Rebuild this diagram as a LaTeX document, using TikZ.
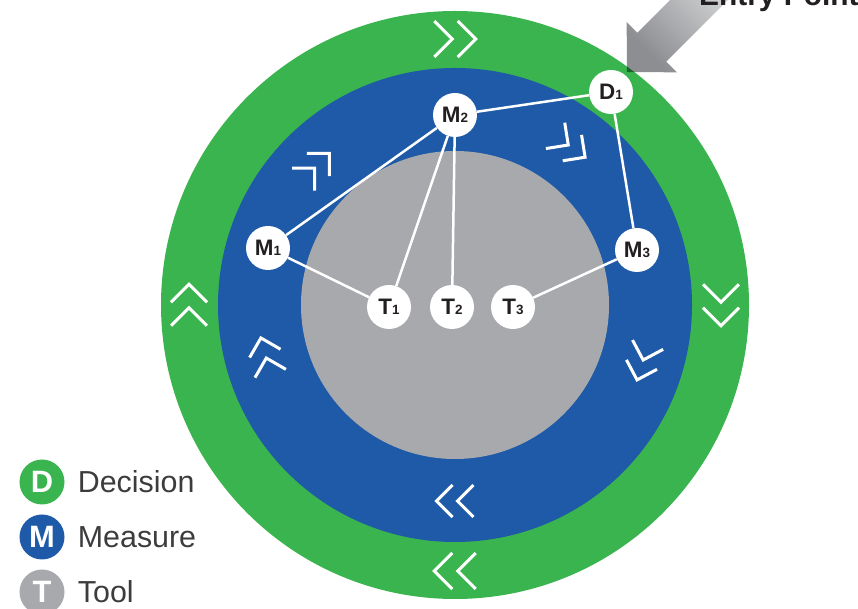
\documentclass[tikz,border=0pt]{standalone}
\usepackage{fontspec}
\setmainfont{Liberation Sans}
\usetikzlibrary{positioning}

\definecolor{ringgreen}{RGB}{58,180,78}
\definecolor{ringblue}{RGB}{30,90,168}
\definecolor{coregray}{RGB}{167,169,172}
\definecolor{inkdark}{RGB}{35,31,32}
\definecolor{inkgray}{RGB}{60,60,62}
\definecolor{arrowdark}{RGB}{140,142,146}
\definecolor{arrowlight}{RGB}{240,240,240}

\newcommand{\idx}[1]{{\fontsize{13.5}{13.5}\selectfont #1}}
% pair of chevrons at (angle:radius), pointing clockwise
\newcommand{\chevpair}[3]{%
  \begin{scope}[shift={(#1:#2)}, rotate=#1-90, scale=#3]
    \draw[chev] (0.15,1) -- (1.15,0) -- (0.15,-1);
    \draw[chev] (-1.15,1) -- (-0.15,0) -- (-1.15,-1);
  \end{scope}}

\begin{document}
\begin{tikzpicture}[x=1bp, y=1bp,
    vertex/.style={circle, fill=white, minimum size=44bp, inner sep=0pt,
      text=inkdark, font=\fontsize{22.5}{22.5}\selectfont\bfseries},
    link/.style={draw=white, line width=2.5bp},
    chev/.style={draw=white, line width=3bp},
    keydot/.style={circle, minimum size=45bp, inner sep=0pt, text=white,
      font=\fontsize{31}{31}\selectfont\bfseries},
    keylabel/.style={inner sep=0pt, text=inkgray,
      font=\fontsize{30.5}{30.5}\selectfont}]
  \useasboundingbox (0,0) rectangle (858,609);

  % rings
  \coordinate (c) at (455,304);
  \fill[ringgreen] (c) circle (294);
  \fill[ringblue] (c) circle (237);
  \fill[coregray] (c) circle (154);

  % flow direction
  \begin{scope}[shift={(455,304)}]
    \foreach \a in {90,0,270,180}
      \chevpair{\a}{266}{18};
    \foreach \a in {54,135,195,270,343}
      \chevpair{\a}{196}{16};
  \end{scope}

  % entry arrow
  \coordinate (entry) at (627,537);
  \begin{scope}[shift={(entry)}, rotate=45, blend mode=multiply]
    \shade[top color=arrowlight, bottom color=arrowdark, shading angle=-45]
      (0,0) -- (35,35.5) -- (35,20.5) -- (170,20.5) -- (170,-20.5)
      -- (35,-20.5) -- (35,-35.5) -- cycle;
  \end{scope}
  \node[anchor=base west, inner sep=0pt, text=inkdark,
    font=\fontsize{30}{30}\selectfont\bfseries] (entrylabel) at (699,603) {Entry Point};

  % steps
  \draw
    (611,517) node[vertex] (d1) {D\idx{1}}
    (455,494) node[vertex] (m2) {M\idx{2}}
    (268,361) node[vertex] (m1) {M\idx{1}}
    (637,359) node[vertex] (m3) {M\idx{3}}
    (389,302) node[vertex] (t1) {T\idx{1}}
    (452,302) node[vertex] (t2) {T\idx{2}}
    (513,302) node[vertex] (t3) {T\idx{3}};
  \begin{scope}[link]
    \draw (m2) to (d1);
    \draw (m2) to (m1);
    \draw (m2) to (t1);
    \draw (m2) to (t2);
    \draw (d1) to (m3);
    \draw (m1) to (t1);
    \draw (m3) to (t3);
  \end{scope}

  % legend
  \node[keydot, fill=ringgreen] (keyd) at (42,127) {D};
  \node[keydot, fill=ringblue] (keym) at (42,72) {M};
  \node[keydot, fill=coregray] (keyt) at (42,17) {T};
  \node[keylabel, right=13bp of keyd] (keydtext) {Decision};
  \node[keylabel, right=13bp of keym] (keymtext) {Measure};
  \node[keylabel, right=13bp of keyt] (keyttext) {Tool};
\end{tikzpicture}
\end{document}
